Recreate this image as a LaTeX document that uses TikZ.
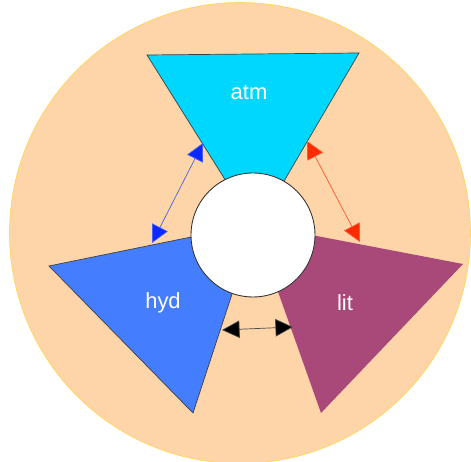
\documentclass[tikz,border=0pt]{standalone}
\usepackage{fontspec}
\setmainfont{Liberation Sans}
\usetikzlibrary{arrows.meta}
\definecolor{peach}{RGB}{253,213,168}
\definecolor{discline}{RGB}{255,214,90}
\definecolor{atmcol}{RGB}{0,215,255}
\definecolor{hydcol}{RGB}{68,125,253}
\definecolor{litcol}{RGB}{169,73,121}
\definecolor{bluearr}{RGB}{10,40,255}
\definecolor{redarr}{RGB}{255,42,0}
\tikzset{
  % Sphere wedges: flat fill, thin dark edge
  wedge/.style={draw=black!75, line width=0.4pt},
  wedge-bare/.style={draw=none},
  % Wedge label: white sans text
  wlabel/.style={text=white, font=\fontsize{12.5}{14}\selectfont, inner sep=0pt},
  % Exchange arrows between wedges
  xchg/.style={arrows={Triangle[length=10pt,width=10pt,fill=#1]-Triangle[length=10pt,width=10pt,fill=#1]},
               line width=0.4pt}
}
\begin{document}
\begin{tikzpicture}[x=0.02cm, y=-0.02cm]
\useasboundingbox (0,0) rectangle (471,462);

% Outer disc
\coordinate (disc) at (240,233);
\fill[peach, draw=discline, line width=0.4pt] (disc) circle[radius=4.61cm];

% Wedge corners
\coordinate (atm-a) at (147,55);
\coordinate (atm-b) at (359,53);
\coordinate (atm-c) at (256,229);
\coordinate (hyd-a) at (49,266);
\coordinate (hyd-b) at (193,413);
\coordinate (hyd-c) at (255,224);
\coordinate (lit-a) at (463,264);
\coordinate (lit-b) at (321,413);
\coordinate (lit-c) at (254,224);

% Three wedges
\filldraw[wedge, fill=atmcol] (atm-a) -- (atm-b) -- (atm-c) -- cycle;
\filldraw[wedge, fill=hydcol] (hyd-a) -- (hyd-b) -- (hyd-c) -- cycle;
\fill[wedge-bare, fill=litcol] (lit-a) -- (lit-b) -- (lit-c) -- cycle;

% Core
\coordinate (core) at (253,235);
\filldraw[fill=white, draw=black!80, line width=0.5pt] (core) circle[radius=1.24cm];

% Labels
\node[wlabel] (atm) at (249,93) {atm};
\node[wlabel] (hyd) at (163,303) {hyd};
\node[wlabel] (lit) at (345,303) {lit};

% Exchange arrows
\coordinate (ah-top) at (203,143);
\coordinate (ah-bot) at (152,243);
\coordinate (al-top) at (307,141);
\coordinate (al-bot) at (360,242);
\coordinate (hl-left) at (222,330);
\coordinate (hl-right) at (293,327);
\draw[xchg=bluearr, draw=bluearr!75] (ah-top) -- (ah-bot);
\draw[xchg=redarr, draw=redarr!80] (al-top) -- (al-bot);
\draw[xchg=black, draw=black!70] (hl-left) -- (hl-right);

\end{tikzpicture}
\end{document}
